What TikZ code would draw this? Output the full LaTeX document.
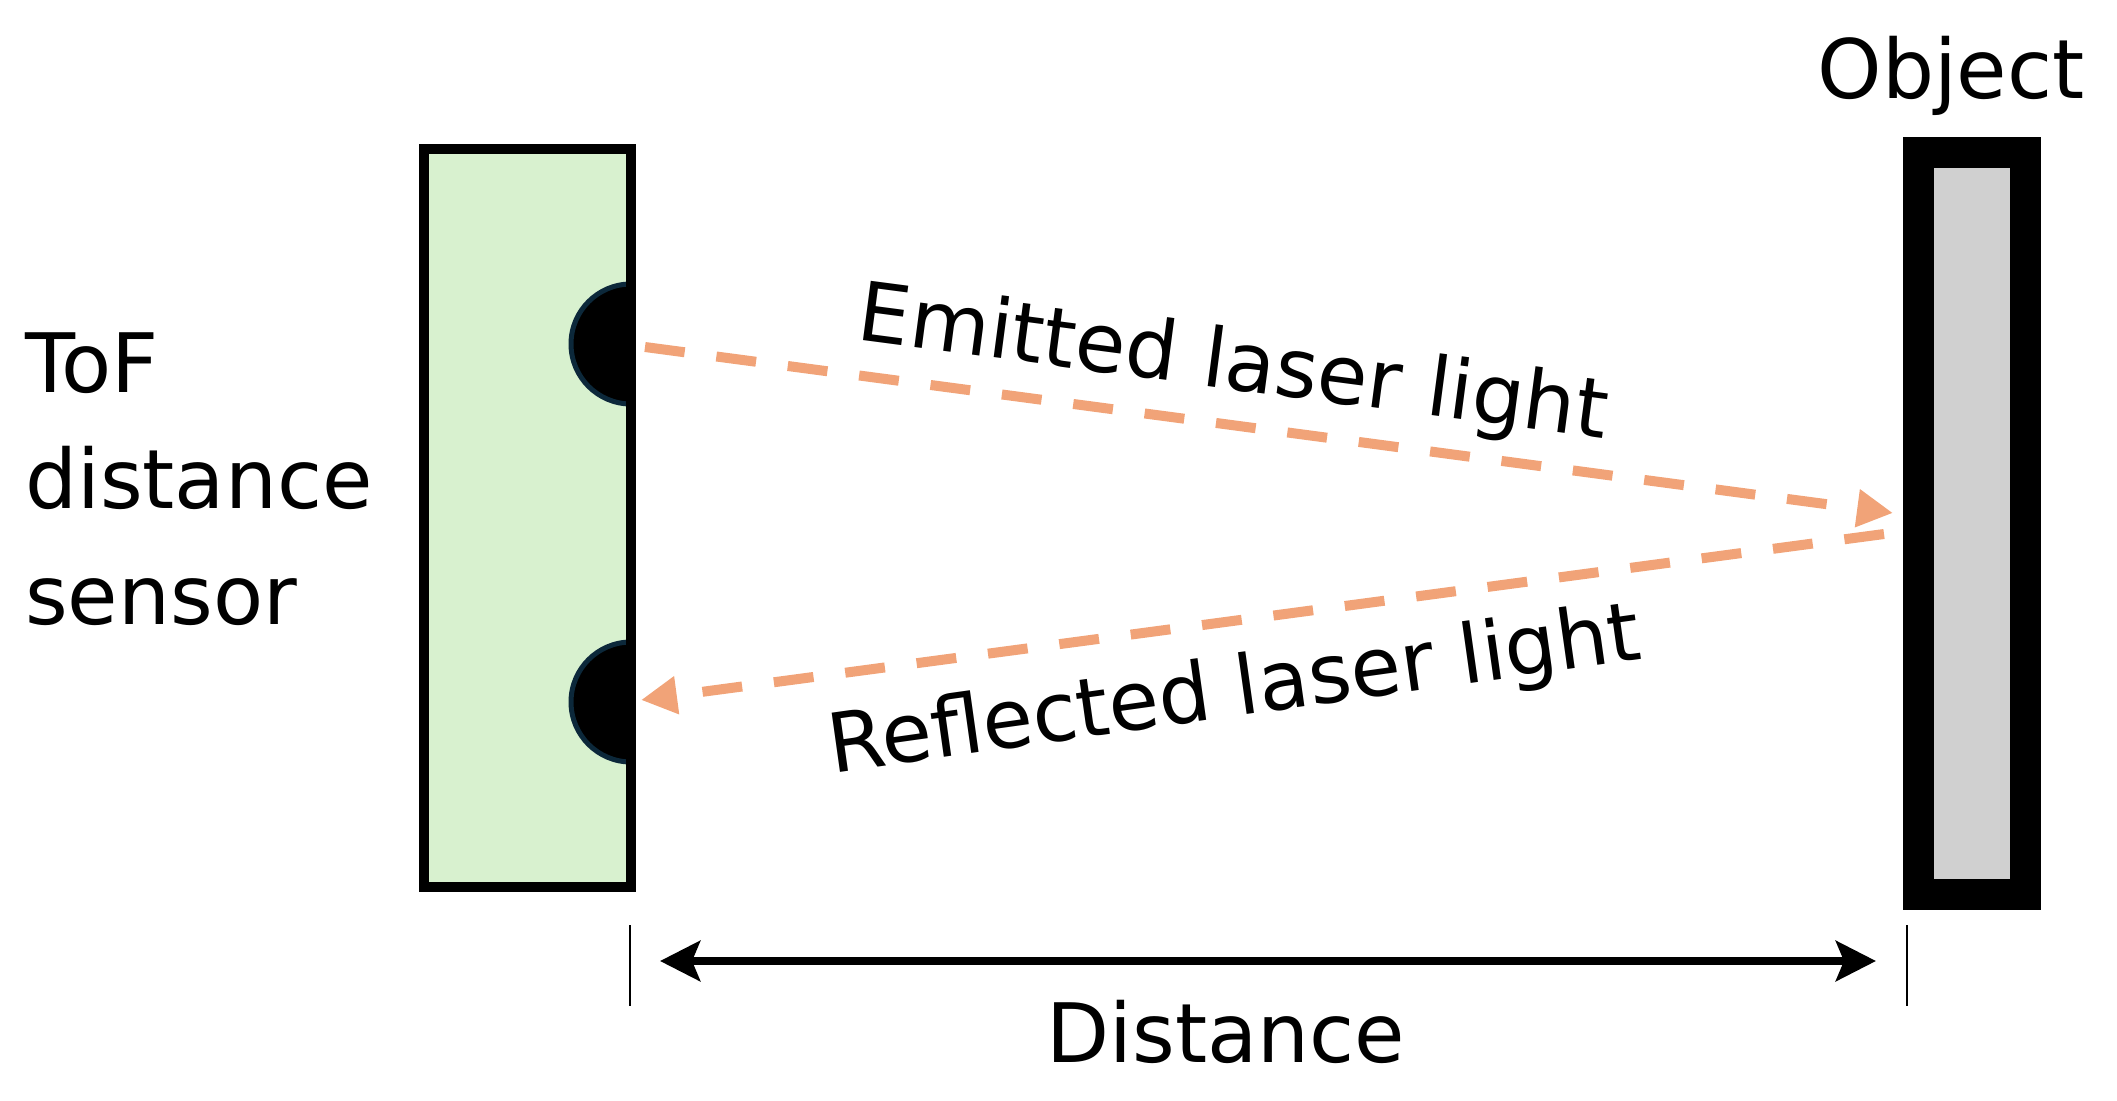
\documentclass[tikz,border=0pt]{standalone}
\usepackage{fontspec}
\setmainfont{DejaVu Sans}
\usetikzlibrary{arrows.meta}
\definecolor{sensorgreen}{RGB}{216,241,207}
\definecolor{objgrey}{RGB}{208,208,208}
\definecolor{laser}{RGB}{241,163,120}
\definecolor{lensrim}{RGB}{12,40,58}
\tikzset{
  lbl/.style={inner sep=0pt, font=\fontsize{82}{116}\selectfont},
  laserline/.style={draw=laser, line width=10pt, dash pattern=on 40pt off 32pt,
     -{Triangle[length=36pt,width=36pt,fill=laser,color=laser]}},
  lens/.style={fill=black, draw=lensrim, line width=5pt},
}
\begin{document}
\begin{tikzpicture}[x=1pt,y=-1pt]
\useasboundingbox (0,0) rectangle (2117,1100);
% sensor
\node[draw=black, fill=sensorgreen, line width=10pt, inner sep=0pt,
      minimum width=207pt, minimum height=738pt] (sensor) at (527.5,518) {};
% lenses
\fill[lens] (631,284) arc[start angle=90, end angle=270, radius=60pt] -- cycle;
\fill[lens] (631,642) arc[start angle=90, end angle=270, radius=60pt] -- cycle;
\draw[black, line width=10pt] (631,144) -- (631,892);
% object
\node[draw=black, fill=objgrey, line width=31pt, inner sep=0pt,
      minimum width=107pt, minimum height=742pt] (object) at (1972,523) {};
% texts
\node[lbl, anchor=north west, align=left] (toflbl) at (25,333) {ToF\\distance\\sensor};
\node[lbl, anchor=base] (objlbl) at (1951,98) {Object};
\node[lbl, anchor=base] (distlbl) at (1226,1062) {Distance};
\node[lbl, anchor=base, rotate=-7.5] (emitlbl) at (1230,389) {Emitted laser light};
\node[lbl, anchor=base, rotate=8] (refllbl) at (1238,716) {Reflected laser light};
% laser paths
\coordinate (emitA) at (645,347);
\coordinate (emitB) at (1893,513);
\coordinate (reflA) at (1884,534);
\coordinate (reflB) at (641,700);
\draw[laserline] (emitA) -- (emitB);
\draw[laserline] (reflA) -- (reflB);
% distance
\coordinate (tickL) at (630,961);
\coordinate (tickR) at (1907,961);
\draw[line width=2pt] (630,925) -- (630,1006);
\draw[line width=2pt] (1907,925) -- (1907,1006);
\draw[line width=8pt, {Stealth[length=40pt,width=40pt,inset=8pt]}-{Stealth[length=40pt,width=40pt,inset=8pt]}]
  ([xshift=30pt]tickL) -- ([xshift=-31pt]tickR);
\end{tikzpicture}
\end{document}
